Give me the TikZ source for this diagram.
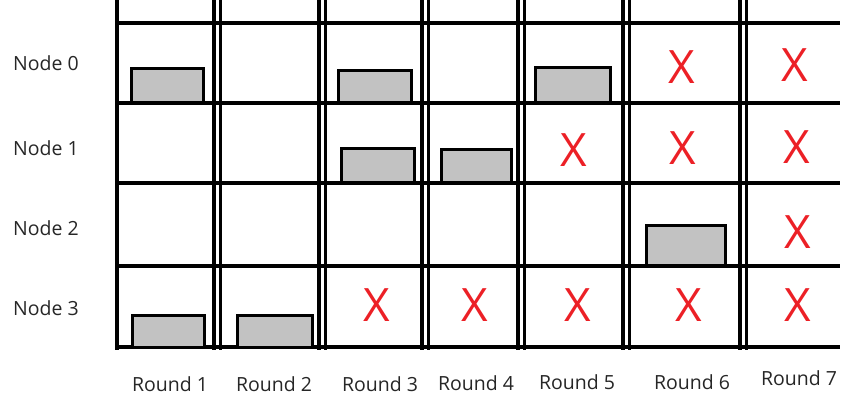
\documentclass[tikz,border=0pt]{standalone}
\usepackage{fontspec}
\setmainfont{Open Sans}
\usetikzlibrary{positioning}
\definecolor{xred}{RGB}{236,32,38}

\begin{document}
\begin{tikzpicture}[
  x=1pt, y=-1pt,
  every node/.style={font=\fontsize{19.5}{22}\selectfont, text=black!85},
  gridline/.style={line width=3.6pt},
  slot/.style={draw, line width=3pt, fill=black!24, inner sep=0pt, outer sep=0pt},
  fail/.style={font=\fontsize{46}{50}\selectfont, text=xred, inner sep=0pt}
]
\useasboundingbox (0,0) rectangle (842,401);
% Left border and double lines between rounds
\draw[gridline] (117,0) -- (117,350);
\foreach \xa/\xb in {214/220.5, 319/325.5, 422/428.5, 518/524.5, 623/629.5, 740/746.5}{
  \draw[gridline] (\xa,0) -- (\xa,350);
  \draw[gridline] (\xb,0) -- (\xb,350);
}
% Row lines
\foreach \y in {23,103,183,266,347}
  \draw[gridline] (115,\y) -- (840,\y);
% Busy slots (grey boxes): name/left/top/right/bottom
\foreach \nm/\xa/\ya/\xb/\yb in {
  a/131/69/203/103, b/338/71/411/103, c/535/68/610/103,
  d/341/148/414/182, e/441/149/511/182, f/646/225/725/265,
  g/132/315/204/347, h/237/315/312/347}{
  \node[slot, minimum width=\xb pt-\xa pt, minimum height=\yb pt-\ya pt]
    (slot\nm) at ({(\xa+\xb)/2},{(\ya+\yb)/2}) {};
}
% Failed slots
\foreach \nm/\x/\y in {
  06/682/67, 07/795/65,
  15/574/150, 16/683/148, 17/797/147,
  27/798/232,
  33/377/305, 34/475/305, 35/578/305, 36/689/305, 37/798/305}{
  \node[fail] (fail\nm) at (\x,\y) {X};
}
% Node labels
\foreach \row/\y in {0/63, 1/148, 2/228, 3/308}
  \node (node\row) at (46,\y) {Node \row};
% Round labels
\foreach \col/\x/\y in {1/170/384, 2/274/384, 3/380/384, 4/476/383, 5/577/382, 6/692/382, 7/799/378}
  \node (round\col) at (\x,\y) {Round \col};
\end{tikzpicture}
\end{document}
